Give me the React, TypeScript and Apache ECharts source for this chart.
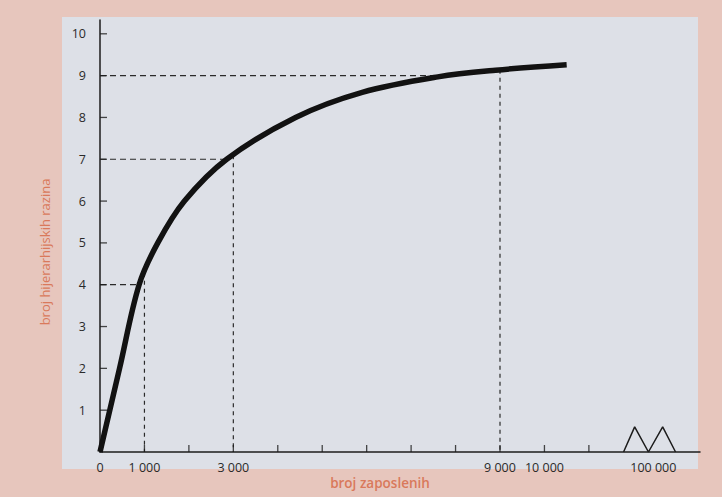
import React, { useEffect, useRef } from "react";
import * as echarts from "echarts";

// curve: number of employees -> number of hierarchy levels
const curveX = [0, 440, 880, 1300, 1900, 2850, 4400, 5900, 7600, 8900, 10500];
const curveY = [0, 2, 4, 5, 6, 7, 8, 8.6, 8.97, 9.13, 9.26];

// dashed guide lines
const guideLevels = [4, 7, 9];
const guideX = [1000, 3000, 9000];

// axes
const xTickValues = [1000, 2000, 3000, 4000, 5000, 6000, 7000, 8000, 9000, 10000, 11000];
const xLabelValues = [0, 1000, 3000, 9000, 10000];
const yTickValues = [1, 2, 3, 4, 5, 6, 7, 8, 9, 10];

// compressed (broken) part of x axis
const breakLabel = "100 000";
const breakLabelPos = 12450;
const breakMarkX = [11780, 12030, 12340, 12660, 12950];
const breakMarkY = [0, 0.6, 0, 0.6, 0];

const yTitle = "broj hijerarhijskih razina";
const xTitle = "broj zaposlenih";

function curveAt(x: number): number {
  for (let i = 1; i < curveX.length; i++) {
    if (x <= curveX[i]) {
      const t = (x - curveX[i - 1]) / (curveX[i] - curveX[i - 1]);
      return curveY[i - 1] + t * (curveY[i] - curveY[i - 1]);
    }
  }
  return curveY[curveY.length - 1];
}
function curveXAt(y: number): number {
  for (let i = 1; i < curveY.length; i++) {
    if (y <= curveY[i]) {
      const t = (y - curveY[i - 1]) / (curveY[i] - curveY[i - 1]);
      return curveX[i - 1] + t * (curveX[i] - curveX[i - 1]);
    }
  }
  return curveX[curveX.length - 1];
}
function fmt(v: number): string {
  if (v === breakLabelPos) return breakLabel;
  return String(v).replace(/\B(?=(\d{3})+(?!\d))/g, " ");
}

export default function App() {
  const ref = useRef<HTMLDivElement>(null);
  useEffect(() => {
    if (!ref.current) return;
    const chart = echarts.init(ref.current, undefined, { renderer: "svg" });
    const ink = "#1c1c1c";
    const orange = "#d9795b";
    const guideSeries: any[] = [];
    guideLevels.forEach((lv) => {
      guideSeries.push({
        type: "line",
        data: [[0, lv], [curveXAt(lv), lv]],
        showSymbol: false,
        silent: true,
        lineStyle: { color: "#2a2a2a", width: 1.2, type: [6, 4] },
        z: 3,
      });
    });
    guideX.forEach((gx) => {
      guideSeries.push({
        type: "line",
        data: [[gx, curveAt(gx)], [gx, 0]],
        showSymbol: false,
        silent: true,
        lineStyle: { color: "#2a2a2a", width: 1.2, type: [4, 4] },
        z: 3,
      });
    });
    chart.setOption({
      animation: false,
      backgroundColor: "#e7c6bd",
      grid: { left: 100, right: 22, top: 20, bottom: 45 },
      xAxis: {
        type: "value",
        min: 0,
        max: 13500,
        axisLine: { lineStyle: { color: ink, width: 1.5 } },
        axisTick: { show: false },
        axisLabel: {
          customValues: [...xLabelValues, breakLabelPos],
          formatter: (v: number) => fmt(v),
          color: "#2a2a2a",
          fontFamily: "Open Sans",
          fontSize: 12.5,
          margin: 9,
        },
        splitLine: { show: false },
      },
      yAxis: {
        type: "value",
        min: 0,
        max: 10.33,
        axisLine: { show: true, lineStyle: { color: ink, width: 1.5 } },
        axisTick: { show: false },
        axisLabel: {
          customValues: yTickValues,
          color: "#2a2a2a",
          fontFamily: "Open Sans",
          fontSize: 12.5,
          margin: 14,
        },
        splitLine: { show: false },
      },
      graphic: [
        {
          type: "rect",
          shape: { x: 62, y: 17, width: 636, height: 452 },
          style: { fill: "#dde0e7" },
          z: -100,
          silent: true,
        },
        {
          type: "text",
          x: 45,
          y: 252,
          rotation: Math.PI / 2,
          style: {
            text: yTitle,
            fill: orange,
            font: "500 13px 'Open Sans'",
            align: "center",
            verticalAlign: "middle",
          },
        },
        {
          type: "text",
          x: 380,
          y: 483,
          style: {
            text: xTitle,
            fill: orange,
            font: "600 13.5px 'Open Sans'",
            align: "center",
            verticalAlign: "middle",
          },
        },
      ],
      series: [
        ...guideSeries,
        {
          type: "scatter",
          data: xTickValues.map((v) => [v, 0]),
          symbol: "rect",
          symbolSize: [1.3, 7],
          symbolOffset: [0, -3.5],
          itemStyle: { color: ink },
          silent: true,
          z: 4,
        },
        {
          type: "scatter",
          data: yTickValues.map((v) => [0, v]),
          symbol: "rect",
          symbolSize: [7, 1.3],
          symbolOffset: [3.5, 0],
          itemStyle: { color: ink },
          silent: true,
          z: 4,
        },
        {
          type: "line",
          data: curveX.map((x, i) => [x, curveY[i]]),
          smooth: 0.35,
          showSymbol: false,
          silent: true,
          lineStyle: { color: "#121212", width: 5.5, cap: "butt" },
          z: 5,
        },
        {
          type: "line",
          data: breakMarkX.map((x, i) => [x, breakMarkY[i]]),
          showSymbol: false,
          silent: true,
          lineStyle: { color: ink, width: 1.5 },
          z: 4,
        },
      ],
    });
    return () => chart.dispose();
  }, []);
  return (
    <div
      ref={ref}
      style={{ position: "fixed", left: 0, top: 0, width: 722, height: 497 }}
    />
  );
}
